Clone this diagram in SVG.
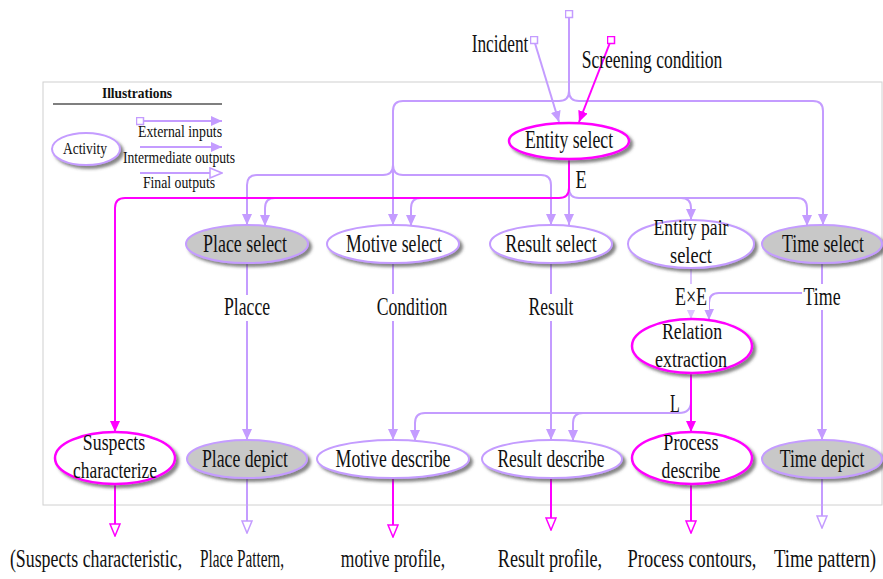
<svg xmlns="http://www.w3.org/2000/svg" width="883" height="579" viewBox="0 0 883 579">
<style>
.t{font-family:"Liberation Serif","Times New Roman",serif;font-size:26px;fill:#111;text-anchor:middle}
.d{font-size:24px}
.s{font-size:16px}
.b{font-weight:bold;font-size:15px}
.lav{fill:none;stroke:#c49cff;stroke-width:2}
.lt{fill:none;stroke:#dcc4ff;stroke-width:2}
.mag{fill:none;stroke:#ff00ff;stroke-width:2}
.nw{fill:#fff;stroke:#c49cff;stroke-width:2;filter:url(#sh)}
.ng{fill:#c8c8c8;stroke:#c49cff;stroke-width:2;filter:url(#sh)}
.nm{fill:#fff;stroke:#ff00ff;stroke-width:2.5;filter:url(#sh)}
.bg{fill:#fff}
</style>
<defs>
<filter id="sh" x="-20%" y="-30%" width="150%" height="170%">
<feDropShadow dx="3" dy="3" stdDeviation="1.5" flood-color="#444" flood-opacity="0.65"/>
</filter>
<marker id="aL" markerUnits="userSpaceOnUse" markerWidth="12" markerHeight="10" refX="11" refY="5" orient="auto"><path d="M0,0 L11,5 L0,10 z" fill="#c49cff"/></marker>
<marker id="aT" markerUnits="userSpaceOnUse" markerWidth="12" markerHeight="10" refX="11" refY="5" orient="auto"><path d="M0,0 L11,5 L0,10 z" fill="#dcc4ff"/></marker>
<marker id="aM" markerUnits="userSpaceOnUse" markerWidth="12" markerHeight="10" refX="11" refY="5" orient="auto"><path d="M0,0 L11,5 L0,10 z" fill="#ff00ff"/></marker>
<marker id="oL" markerUnits="userSpaceOnUse" markerWidth="14" markerHeight="12" refX="13" refY="6" orient="auto"><path d="M1,1 L13,6 L1,11 z" fill="#fff" stroke="#c49cff" stroke-width="1.5"/></marker>
<marker id="oM" markerUnits="userSpaceOnUse" markerWidth="14" markerHeight="12" refX="13" refY="6" orient="auto"><path d="M1,1 L13,6 L1,11 z" fill="#fff" stroke="#ff00ff" stroke-width="1.5"/></marker>
<marker id="sqL" markerUnits="userSpaceOnUse" markerWidth="9" markerHeight="9" refX="4.5" refY="4.5"><rect x="1" y="1" width="7" height="7" fill="#fff" stroke="#c49cff" stroke-width="1.5"/></marker>
<marker id="sqM" markerUnits="userSpaceOnUse" markerWidth="9" markerHeight="9" refX="4.5" refY="4.5"><rect x="1" y="1" width="7" height="7" fill="#fff" stroke="#ff00ff" stroke-width="1.5"/></marker>
</defs>
<rect width="883" height="579" fill="#fff"/>
<rect id="frame" x="43" y="82" width="839" height="423" fill="none" stroke="#d0d0d0" stroke-width="1"/>

<g id="legend">
<text class="t b" transform="translate(137,98) scale(0.9,1)" textLength="78" lengthAdjust="spacingAndGlyphs">Illustrations</text>
<line x1="53" y1="104" x2="222" y2="104" stroke="#555" stroke-width="1.5"/>
<ellipse class="nw" cx="86" cy="149" rx="34" ry="16"/>
<text class="t s" transform="translate(85,154) scale(0.85,1)" textLength="52" lengthAdjust="spacingAndGlyphs">Activity</text>
<path class="lav" d="M140,121 H222" marker-start="url(#sqL)" marker-end="url(#aL)"/>
<path class="lav" d="M140,147 H222" marker-end="url(#aL)"/>
<path class="lav" d="M140,173 H222" marker-end="url(#oL)"/>
<text class="t s" transform="translate(180,137) scale(0.85,1)" textLength="99" lengthAdjust="spacingAndGlyphs">External inputs</text>
<text class="t s" transform="translate(179,163) scale(0.85,1)" textLength="132" lengthAdjust="spacingAndGlyphs">Intermediate outputs</text>
<text class="t s" transform="translate(179,188) scale(0.85,1)" textLength="85" lengthAdjust="spacingAndGlyphs">Final outputs</text>
</g>

<g id="connectors">
<path class="lav" d="M569,14 V91 Q569,101 559,101 H403 Q393,101 393,111 V225" marker-start="url(#sqL)" marker-end="url(#aL)"/>
<path class="lav" d="M569,91 Q569,101 579,101 H813 Q823,101 823,111 V225" marker-end="url(#aL)"/>
<path class="lav" d="M393,165 Q393,175 383,175 H257 Q247,175 247,185 V225" marker-end="url(#aL)"/>
<path class="lav" d="M393,165 Q393,175 403,175 H541 Q551,175 551,185 V225" marker-end="url(#aL)"/>
<path class="lav" d="M534,40 L559,122" marker-start="url(#sqL)" marker-end="url(#aL)"/>
<path class="mag" d="M611,40 L579,122" marker-start="url(#sqM)" marker-end="url(#aM)"/>
<path class="lav" d="M569,159 V225" marker-end="url(#aL)"/>
<path class="lav" d="M569,188 Q569,198 579,198 H797 Q807,198 807,208 V226" marker-end="url(#aL)"/>
<path class="lav" d="M681,198 Q691,198 691,208 V220" marker-end="url(#aL)"/>
<path class="lav" d="M275,198 Q265,198 265,208 V226" marker-end="url(#aL)"/>
<path class="lav" d="M421,198 Q411,198 411,208 V226" marker-end="url(#aL)"/>
<path class="mag" d="M569,159 V188 Q569,198 559,198 H125 Q115,198 115,208 V432" marker-end="url(#aM)"/>
<path class="lav" d="M247,263 V440" marker-end="url(#aL)"/>
<path class="lav" d="M393,263 V440" marker-end="url(#aL)"/>
<path class="lav" d="M551,263 V440" marker-end="url(#aL)"/>
<path class="lt" d="M691,268 V319" marker-end="url(#aT)"/>
<path class="lav" d="M822,263 V440" marker-end="url(#aL)"/>
<path class="lav" d="M803,293 H719 Q709,293 709,303 V320" marker-end="url(#aL)"/>
<path class="lav" d="M691,401 Q691,413 679,413 H425 Q415,413 415,423 V441" marker-end="url(#aL)"/>
<path class="lav" d="M583,413 Q573,413 573,423 V441" marker-end="url(#aL)"/>
<path class="mag" d="M691,373 V432" marker-end="url(#aM)"/>
<path class="mag" d="M115,484 V536" marker-end="url(#oM)"/>
<path class="lav" d="M247,478 V533" marker-end="url(#oL)"/>
<path class="mag" d="M393,478 V537" marker-end="url(#oM)"/>
<path class="mag" d="M551,478 V530" marker-end="url(#oM)"/>
<path class="mag" d="M691,484 V533" marker-end="url(#oM)"/>
<path class="lav" d="M822,478 V528" marker-end="url(#oL)"/>
</g>

<g id="edge-labels">
<rect class="bg" x="222" y="295" width="50" height="26"/>
<rect class="bg" x="375" y="294" width="75" height="27"/>
<rect class="bg" x="526" y="294" width="50" height="27"/>
<rect class="bg" x="673" y="284" width="36" height="26"/>
<rect class="bg" x="802" y="284" width="42" height="26"/>
<text class="t" transform="translate(247,315) scale(0.7,1)" textLength="66" lengthAdjust="spacingAndGlyphs">Placce</text>
<text class="t" transform="translate(412,315) scale(0.7,1)" textLength="101" lengthAdjust="spacingAndGlyphs">Condition</text>
<text class="t" transform="translate(551,315) scale(0.7,1)" textLength="64" lengthAdjust="spacingAndGlyphs">Result</text>
<text class="t" transform="translate(691,305) scale(0.7,1)" textLength="46" lengthAdjust="spacingAndGlyphs">E×E</text>
<text class="t" transform="translate(822,305) scale(0.7,1)" textLength="53" lengthAdjust="spacingAndGlyphs">Time</text>
<text class="t" transform="translate(675,412) scale(0.7,1)" textLength="14" lengthAdjust="spacingAndGlyphs">L</text>
<text class="t" transform="translate(581,188) scale(0.7,1)" textLength="16" lengthAdjust="spacingAndGlyphs">E</text>
<text class="t" transform="translate(500,52) scale(0.7,1)" textLength="81" lengthAdjust="spacingAndGlyphs">Incident</text>
<text class="t" transform="translate(652,68) scale(0.7,1)" textLength="201" lengthAdjust="spacingAndGlyphs">Screening condition</text>
</g>

<g id="entity-select"><ellipse class="nm" cx="569" cy="141" rx="60" ry="18"/><text class="t" transform="translate(569,148) scale(0.7,1)" textLength="126" lengthAdjust="spacingAndGlyphs">Entity select</text></g>
<g id="place-select"><ellipse class="ng" cx="247" cy="244" rx="61" ry="19"/><text class="t" transform="translate(245,252) scale(0.7,1)" textLength="120" lengthAdjust="spacingAndGlyphs">Place select</text></g>
<g id="motive-select"><ellipse class="nw" cx="393" cy="244" rx="66" ry="19"/><text class="t" transform="translate(394,252) scale(0.7,1)" textLength="137" lengthAdjust="spacingAndGlyphs">Motive select</text></g>
<g id="result-select"><ellipse class="nw" cx="551" cy="244" rx="61" ry="19"/><text class="t" transform="translate(551,252) scale(0.7,1)" textLength="131" lengthAdjust="spacingAndGlyphs">Result select</text></g>
<g id="entity-pair-select"><ellipse class="nw" cx="691" cy="244" rx="63" ry="24"/><text class="t d" transform="translate(691,235) scale(0.7,1)" textLength="107" lengthAdjust="spacingAndGlyphs">Entity pair</text><text class="t d" transform="translate(691,263) scale(0.7,1)" textLength="60" lengthAdjust="spacingAndGlyphs">select</text></g>
<g id="time-select"><ellipse class="ng" cx="822" cy="244" rx="60" ry="19"/><text class="t" transform="translate(823,252) scale(0.7,1)" textLength="117" lengthAdjust="spacingAndGlyphs">Time select</text></g>
<g id="relation-extraction"><ellipse class="nm" cx="692" cy="346" rx="60" ry="27"/><text class="t d" transform="translate(692,339) scale(0.7,1)" textLength="86" lengthAdjust="spacingAndGlyphs">Relation</text><text class="t d" transform="translate(691,367) scale(0.7,1)" textLength="103" lengthAdjust="spacingAndGlyphs">extraction</text></g>
<g id="suspects-characterize"><ellipse class="nm" cx="115" cy="458" rx="60" ry="26"/><text class="t d" transform="translate(114,450) scale(0.7,1)" textLength="89" lengthAdjust="spacingAndGlyphs">Suspects</text><text class="t d" transform="translate(115,478) scale(0.7,1)" textLength="120" lengthAdjust="spacingAndGlyphs">characterize</text></g>
<g id="place-depict"><ellipse class="ng" cx="247" cy="459" rx="60" ry="19"/><text class="t" transform="translate(245,467) scale(0.7,1)" textLength="123" lengthAdjust="spacingAndGlyphs">Place depict</text></g>
<g id="motive-describe"><ellipse class="nw" cx="393" cy="459" rx="76" ry="19"/><text class="t" transform="translate(393,467) scale(0.7,1)" textLength="164" lengthAdjust="spacingAndGlyphs">Motive describe</text></g>
<g id="result-describe"><ellipse class="nw" cx="552" cy="459" rx="70" ry="19"/><text class="t" transform="translate(551,467) scale(0.7,1)" textLength="153" lengthAdjust="spacingAndGlyphs">Result describe</text></g>
<g id="process-describe"><ellipse class="nm" cx="692" cy="458" rx="60" ry="26"/><text class="t d" transform="translate(691,450) scale(0.7,1)" textLength="79" lengthAdjust="spacingAndGlyphs">Process</text><text class="t d" transform="translate(691,478) scale(0.7,1)" textLength="84" lengthAdjust="spacingAndGlyphs">describe</text></g>
<g id="time-depict"><ellipse class="ng" cx="822" cy="459" rx="60" ry="19"/><text class="t" transform="translate(822,467) scale(0.7,1)" textLength="121" lengthAdjust="spacingAndGlyphs">Time depict</text></g>

<g id="outputs">
<text class="t" transform="translate(96,567) scale(0.7,1)" textLength="246" lengthAdjust="spacingAndGlyphs">(Suspects characteristic,</text>
<text class="t" transform="translate(242,567) scale(0.7,1)" textLength="120" lengthAdjust="spacingAndGlyphs">Place Pattern,</text>
<text class="t" transform="translate(393,567) scale(0.7,1)" textLength="149" lengthAdjust="spacingAndGlyphs">motive profile,</text>
<text class="t" transform="translate(550,567) scale(0.7,1)" textLength="149" lengthAdjust="spacingAndGlyphs">Result profile,</text>
<text class="t" transform="translate(692,567) scale(0.7,1)" textLength="184" lengthAdjust="spacingAndGlyphs">Process contours,</text>
<text class="t" transform="translate(825,567) scale(0.7,1)" textLength="146" lengthAdjust="spacingAndGlyphs">Time pattern)</text>
</g>
</svg>
